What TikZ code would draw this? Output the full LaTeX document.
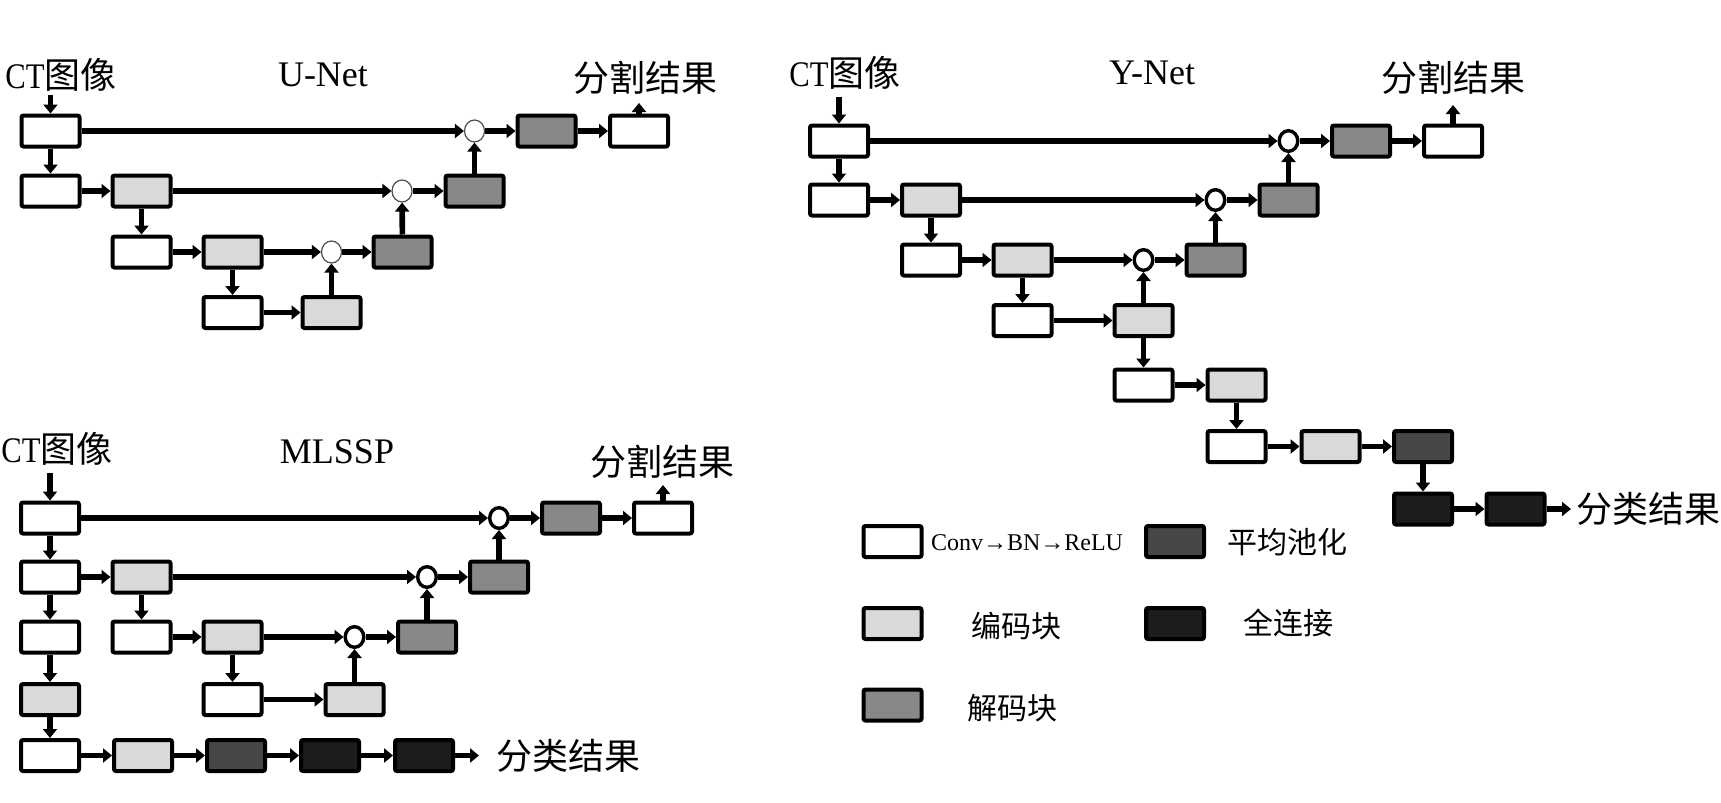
\documentclass[tikz,border=0pt]{standalone}
\usepackage{fontspec}
\setmainfont{Liberation Serif}
\newfontfamily\cjk{Noto Sans CJK SC}
\usetikzlibrary{arrows.meta,shapes.geometric}
\definecolor{cLight}{HTML}{D9D9D9}
\definecolor{cDark}{HTML}{888888}
\definecolor{cPool}{HTML}{474747}
\definecolor{cFull}{HTML}{1C1C1C}
\newcommand\ctimg{\scalebox{0.85}[1]{CT}{\cjk 图像}}
\tikzset{
  blk/.style={draw=black, line width=2pt, rounded corners=1pt, inner sep=0pt,
              minimum width=29pt, minimum height=15.5pt},
  boxW/.style={blk, fill=white},
  boxL/.style={blk, fill=cLight},
  boxD/.style={blk, fill=cDark},
  boxP/.style={blk, fill=cPool},
  boxF/.style={blk, fill=cFull},
  sumthin/.style={ellipse, draw=black!70, line width=0.6pt, fill=white, inner sep=0pt,
              minimum width=10pt, minimum height=11pt},
  sumthick/.style={ellipse, draw=black, line width=1.7pt, fill=white, inner sep=0pt,
              minimum width=9.3pt, minimum height=10.3pt},
  arr/.style={line width=2.8pt, -{Triangle[length=4.5pt,width=7pt]}},
  ttl/.style={inner sep=0pt, font=\fontsize{18pt}{20pt}\selectfont},
  lgd/.style={inner sep=0pt, font=\fontsize{15pt}{17pt}\selectfont\cjk},
}
\begin{document}
\begin{tikzpicture}[x=0.5pt, y=-0.5pt]
\useasboundingbox[fill=white] (0,0) rectangle (1721,803);

% ================= U-Net =================
\node[ttl] (uct) at (61,75) {\ctimg};
\node[ttl] (uname) at (323,75) {U-Net};
\node[ttl] (useg) at (645,78) {\cjk 分割结果};
\node[boxW] (u11) at (50.5,131) {};
\node[sumthin] (uc1) at (474.5,131) {};
\node[boxD] (u1d) at (546.5,131) {};
\node[boxW] (u1e) at (639,131) {};
\node[boxW] (u21) at (50.5,191) {};
\node[boxL] (u22) at (141.5,191) {};
\node[sumthin] (uc2) at (402,191) {};
\node[boxD] (u2d) at (474.5,191) {};
\node[boxW] (u31) at (141.5,252) {};
\node[boxL] (u32) at (232.5,252) {};
\node[sumthin] (uc3) at (331.5,252) {};
\node[boxD] (u3d) at (402.5,252) {};
\node[boxW] (u41) at (232.5,312.5) {};
\node[boxL] (u42) at (331.5,312.5) {};
\coordinate (uin) at (50.5,95);
\coordinate (uout) at (639,103);
\draw[arr] (uin) -- (u11);
\draw[arr] (u11) -- (uc1);
\draw[arr] (uc1) -- (u1d);
\draw[arr] (u1d) -- (u1e);
\draw[arr] (u1e) -- (uout);
\draw[arr] (u11) -- (u21);
\draw[arr] (u21) -- (u22);
\draw[arr] (u22) -- (uc2);
\draw[arr] (uc2) -- (u2d);
\draw[arr] (u2d) -- (uc1);
\draw[arr] (u22) -- (u31);
\draw[arr] (u31) -- (u32);
\draw[arr] (u32) -- (uc3);
\draw[arr] (uc3) -- (u3d);
\draw[arr] (u3d) -- (uc2);
\draw[arr] (u32) -- (u41);
\draw[arr] (u41) -- (u42);
\draw[arr] (u42) -- (uc3);

% ================= MLSSP =================
\node[ttl] (mct) at (57,449) {\ctimg};
\node[ttl] (mname) at (337,452) {MLSSP};
\node[ttl] (mseg) at (662,462) {\cjk 分割结果};
\node[ttl, anchor=west] (mcls) at (496,755.5) {\cjk 分类结果};
\node[boxW] (m11) at (50,518) {};
\node[sumthick] (mc1) at (499,518) {};
\node[boxD] (m1d) at (571,518) {};
\node[boxW] (m1e) at (663,518) {};
\node[boxW] (m21) at (50,577) {};
\node[boxL] (m22) at (141.5,577) {};
\node[sumthick] (mc2) at (427,577) {};
\node[boxD] (m2d) at (499,577) {};
\node[boxW] (m31) at (50,637) {};
\node[boxW] (m32) at (141.5,637) {};
\node[boxL] (m33) at (232.5,637) {};
\node[sumthick] (mc3) at (354.5,637) {};
\node[boxD] (m3d) at (427,637) {};
\node[boxL] (m41) at (50,699.5) {};
\node[boxW] (m42) at (232.5,699.5) {};
\node[boxL] (m43) at (354.5,699.5) {};
\node[boxW] (m51) at (50,755.5) {};
\node[boxL] (m52) at (143,755.5) {};
\node[boxP] (m53) at (236,755.5) {};
\node[boxF] (m54) at (330,755.5) {};
\node[boxF] (m55) at (424,755.5) {};
\coordinate (min) at (50,473);
\coordinate (mout) at (663,485);
\coordinate (mclsout) at (479,755.5);
\draw[arr] (min) -- (m11);
\draw[arr] (m11) -- (mc1);
\draw[arr] (mc1) -- (m1d);
\draw[arr] (m1d) -- (m1e);
\draw[arr] (m1e) -- (mout);
\draw[arr] (m11) -- (m21);
\draw[arr] (m21) -- (m31);
\draw[arr] (m31) -- (m41);
\draw[arr] (m41) -- (m51);
\draw[arr] (m21) -- (m22);
\draw[arr] (m22) -- (mc2);
\draw[arr] (mc2) -- (m2d);
\draw[arr] (m2d) -- (mc1);
\draw[arr] (m22) -- (m32);
\draw[arr] (m32) -- (m33);
\draw[arr] (m33) -- (mc3);
\draw[arr] (mc3) -- (m3d);
\draw[arr] (m3d) -- (mc2);
\draw[arr] (m33) -- (m42);
\draw[arr] (m42) -- (m43);
\draw[arr] (m43) -- (mc3);
\draw[arr] (m51) -- (m52);
\draw[arr] (m52) -- (m53);
\draw[arr] (m53) -- (m54);
\draw[arr] (m54) -- (m55);
\draw[arr] (m55) -- (mclsout);

% ================= Y-Net =================
\node[ttl] (yct) at (845,73) {\ctimg};
\node[ttl] (yname) at (1152,73) {Y-Net};
\node[ttl] (yseg) at (1453,78) {\cjk 分割结果};
\node[ttl, anchor=west] (ycls) at (1576,509) {\cjk 分类结果};
\node[boxW] (y11) at (839,141) {};
\node[sumthick] (yc1) at (1288.5,141) {};
\node[boxD] (y1d) at (1361,141) {};
\node[boxW] (y1e) at (1453,141) {};
\node[boxW] (y21) at (839,200) {};
\node[boxL] (y22) at (931,200) {};
\node[sumthick] (yc2) at (1215.5,200) {};
\node[boxD] (y2d) at (1288.5,200) {};
\node[boxW] (y31) at (931,260) {};
\node[boxL] (y32) at (1022.5,260) {};
\node[sumthick] (yc3) at (1143.5,260) {};
\node[boxD] (y3d) at (1215.5,260) {};
\node[boxW] (y41) at (1022.5,320.5) {};
\node[boxL] (y42) at (1143.5,320.5) {};
\node[boxW] (y51) at (1143.5,385) {};
\node[boxL] (y52) at (1236.5,385) {};
\node[boxW] (y61) at (1236.5,446.5) {};
\node[boxL] (y62) at (1330.5,446.5) {};
\node[boxP] (y63) at (1423,446.5) {};
\node[boxF] (y71) at (1423,509) {};
\node[boxF] (y72) at (1515.5,509) {};
\coordinate (yin) at (839,97);
\coordinate (yout) at (1453,105);
\coordinate (yclsout) at (1571,509);
\draw[arr] (yin) -- (y11);
\draw[arr] (y11) -- (yc1);
\draw[arr] (yc1) -- (y1d);
\draw[arr] (y1d) -- (y1e);
\draw[arr] (y1e) -- (yout);
\draw[arr] (y11) -- (y21);
\draw[arr] (y21) -- (y22);
\draw[arr] (y22) -- (yc2);
\draw[arr] (yc2) -- (y2d);
\draw[arr] (y2d) -- (yc1);
\draw[arr] (y22) -- (y31);
\draw[arr] (y31) -- (y32);
\draw[arr] (y32) -- (yc3);
\draw[arr] (yc3) -- (y3d);
\draw[arr] (y3d) -- (yc2);
\draw[arr] (y32) -- (y41);
\draw[arr] (y41) -- (y42);
\draw[arr] (y42) -- (yc3);
\draw[arr] (y42) -- (y51);
\draw[arr] (y51) -- (y52);
\draw[arr] (y52) -- (y61);
\draw[arr] (y61) -- (y62);
\draw[arr] (y62) -- (y63);
\draw[arr] (y63) -- (y71);
\draw[arr] (y71) -- (y72);
\draw[arr] (y72) -- (yclsout);

% ================= Legend =================
\node[boxW] (lw) at (892.5,541.5) {};
\node[inner sep=0pt, font=\fontsize{12pt}{14pt}\selectfont] (lwt) at (1027,543) {Conv→BN→ReLU};
\node[boxP] (lp) at (1175,541.5) {};
\node[lgd] (lpt) at (1287,542) {平均池化};
\node[boxL] (ll) at (892.5,623.5) {};
\node[lgd] (llt) at (1016,626) {编码块};
\node[boxF] (lf) at (1175,623.5) {};
\node[lgd] (lft) at (1288,623) {全连接};
\node[boxD] (ld) at (892.5,705) {};
\node[lgd] (ldt) at (1012,708) {解码块};
\end{tikzpicture}
\end{document}
